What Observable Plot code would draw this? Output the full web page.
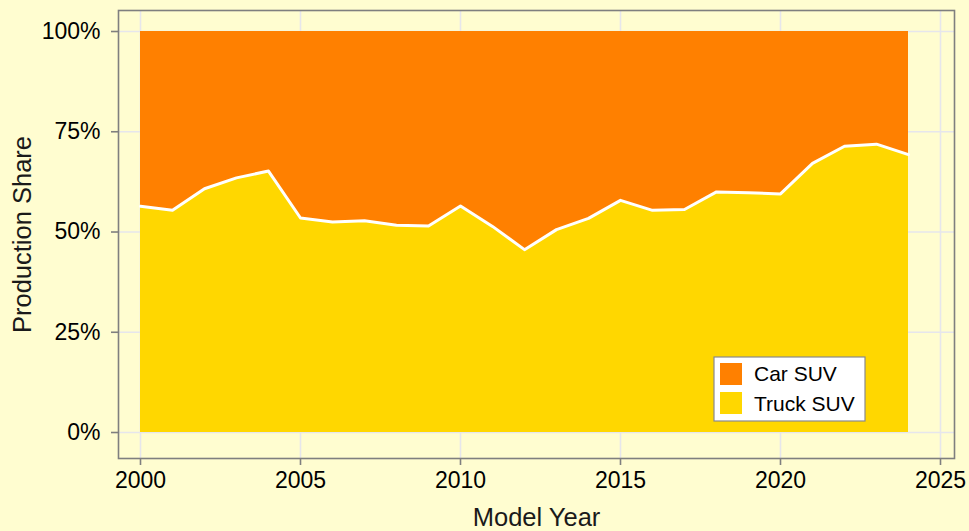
<!DOCTYPE html>
<html>
<head>
<meta charset="utf-8">
<script src="https://cdn.jsdelivr.net/npm/d3@7"></script>
<script src="https://cdn.jsdelivr.net/npm/@observablehq/plot@0.6"></script>
<style>
  html, body { margin: 0; padding: 0; background: #FFFDD0; }
  #chart { width: 969px; height: 531px; }
</style>
</head>
<body>
<div id="chart"></div>
<script>
const years = [2000,2001,2002,2003,2004,2005,2006,2007,2008,2009,2010,2011,2012,2013,2014,2015,2016,2017,2018,2019,2020,2021,2022,2023,2024];
const truckShare = [56.4,55.4,60.8,63.5,65.2,53.5,52.5,52.8,51.7,51.5,56.5,51.4,45.6,50.6,53.4,57.9,55.4,55.6,60.0,59.8,59.5,67.1,71.4,71.9,69.3];
const seriesNames = ["Car SUV", "Truck SUV"];
const seriesColors = ["#FF8000", "#FFD700"];
const xTicks = [2000, 2005, 2010, 2015, 2020, 2025];
const yTicks = [0, 25, 50, 75, 100];

const rows = [];
years.forEach((yr, i) => {
  rows.push({year: yr, type: "Truck SUV", share: truckShare[i]});
  rows.push({year: yr, type: "Car SUV", share: 100 - truckShare[i]});
});
const lineRows = years.map((yr, i) => ({year: yr, share: truckShare[i]}));

const gridColor = "#E6E6EC";
const axisColor = "#7F7F7F";

const chart = Plot.plot({
  width: 969,
  height: 531,
  marginLeft: 118,
  marginRight: 15,
  marginTop: 10,
  marginBottom: 73,
  style: {background: "#FFFDD0", fontFamily: "'Liberation Sans', Arial, sans-serif", fontSize: "23px", color: "#000"},
  x: {domain: [1999.3125, 2025.4375]},
  y: {domain: [-6.48, 105.24]},
  color: {domain: seriesNames, range: seriesColors},
  marks: [
    Plot.gridX(xTicks, {stroke: gridColor, strokeOpacity: 1, strokeWidth: 1.6}),
    Plot.gridY(yTicks, {stroke: gridColor, strokeOpacity: 1, strokeWidth: 1.6}),
    Plot.areaY(rows, Plot.stackY({x: "year", y: "share", fill: "type", order: ["Truck SUV", "Car SUV"]})),
    Plot.line(lineRows, {x: "year", y: "share", stroke: "white", strokeWidth: 3}),
    Plot.frame({stroke: axisColor, strokeWidth: 1.6}),
    Plot.axisX(xTicks, {tickSize: 7, tickPadding: 6, stroke: axisColor, strokeWidth: 1.6, tickFormat: d => String(d), fontSize: 23, label: null}),
    Plot.axisY(yTicks, {tickSize: 7, tickPadding: 11, stroke: axisColor, strokeWidth: 1.6, tickFormat: d => d + "%", fontSize: 23, label: null}),
    Plot.text(["Production Share"], {frameAnchor: "left", textAnchor: "middle", dx: -96, rotate: -90, fontSize: 25.5, fill: "#1a1a1a"}),
    Plot.text(["Model Year"], {frameAnchor: "bottom", dy: 67, fontSize: 25.5, fill: "#1a1a1a"})
  ]
});

// Legend (inside the panel, bottom right)
const svg = d3.select(chart);
const lg = svg.append("g").attr("font-family", "'Liberation Sans', Arial, sans-serif").attr("font-size", 21).attr("text-anchor", "start");
lg.append("rect").attr("x", 714).attr("y", 357).attr("width", 151).attr("height", 64)
  .attr("fill", "white").attr("stroke", "#8a8a8a").attr("stroke-width", 1.2);
seriesNames.forEach((name, i) => {
  lg.append("rect").attr("x", 720).attr("y", 363 + i * 29).attr("width", 22).attr("height", 22)
    .attr("fill", seriesColors[i]);
  lg.append("text").attr("x", 754).attr("y", 381 + i * 30).attr("fill", "#000").text(name);
});

document.getElementById("chart").appendChild(chart);
</script>
</body>
</html>
